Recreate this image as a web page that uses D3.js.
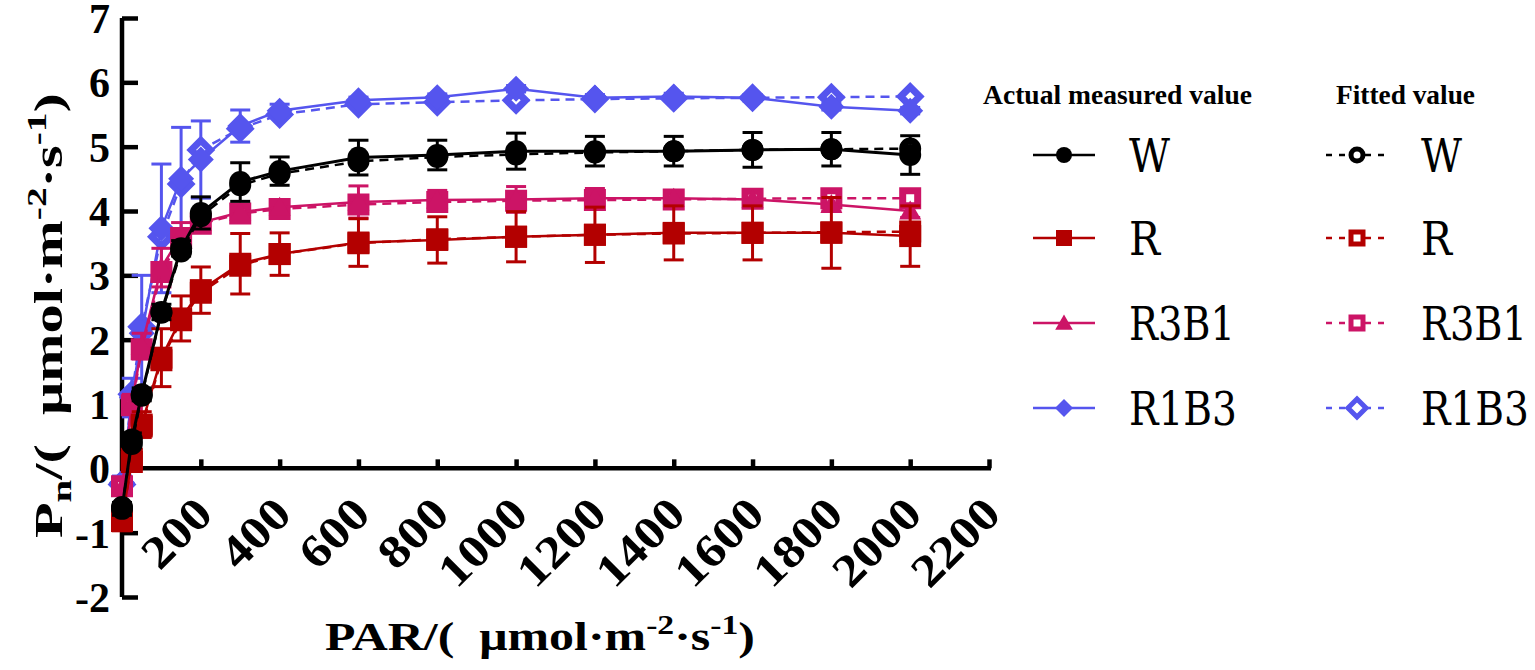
<!DOCTYPE html>
<html>
<head>
<meta charset="utf-8">
<script src="https://cdn.jsdelivr.net/npm/d3@7"></script>
<style>
  html, body { margin: 0; padding: 0; background: #fff; }
</style>
</head>
<body>
<div id="chart"></div>
<script>
// PAR levels (x) and net photosynthesis values (y)
var parLevels = [0, 25, 50, 100, 150, 200, 300, 400, 600, 800, 1000, 1200, 1400, 1600, 1800, 2000];

var wActual   = [-0.63, 0.45, 1.15, 2.43, 3.42, 3.97, 4.45, 4.62, 4.83, 4.87, 4.93, 4.93, 4.93, 4.95, 4.96, 4.87];
var wFitted   = [-0.60, 0.38, 1.13, 2.42, 3.37, 3.92, 4.40, 4.58, 4.77, 4.84, 4.88, 4.91, 4.93, 4.95, 4.96, 4.97];
var wErr      = [0.10, 0.10, 0.10, 0.12, 0.12, 0.25, 0.30, 0.22, 0.27, 0.23, 0.28, 0.23, 0.23, 0.27, 0.26, 0.30];

var rActual   = [-0.82, 0.15, 0.68, 1.72, 2.33, 2.77, 3.18, 3.33, 3.51, 3.55, 3.60, 3.63, 3.66, 3.66, 3.66, 3.61];
var rFitted   = [-0.80, 0.10, 0.65, 1.68, 2.30, 2.73, 3.15, 3.33, 3.50, 3.56, 3.60, 3.63, 3.65, 3.66, 3.67, 3.68];
var rErr      = [0.15, 0.15, 0.20, 0.45, 0.35, 0.36, 0.47, 0.33, 0.37, 0.36, 0.39, 0.43, 0.42, 0.42, 0.55, 0.47];

var r3b1Actual = [-0.30, 1.00, 1.90, 3.12, 3.62, 3.82, 3.98, 4.06, 4.14, 4.17, 4.18, 4.20, 4.20, 4.18, 4.10, 4.00];
var r3b1Fitted = [-0.28, 0.98, 1.85, 3.05, 3.58, 3.80, 3.96, 4.03, 4.10, 4.14, 4.16, 4.17, 4.18, 4.19, 4.20, 4.20];
var r3b1Err    = [0.10, 0.15, 0.20, 0.30, 0.20, 0.12, 0.10, 0.10, 0.25, 0.15, 0.20, 0.15, 0.10, 0.10, 0.10, 0.10];

var r1b3Actual = [-0.22, 1.10, 2.10, 3.73, 4.50, 4.80, 5.32, 5.56, 5.72, 5.77, 5.90, 5.76, 5.78, 5.76, 5.62, 5.56];
var r1b3Fitted = [-0.25, 1.15, 2.20, 3.60, 4.42, 4.95, 5.28, 5.50, 5.66, 5.69, 5.72, 5.74, 5.75, 5.76, 5.77, 5.78];
var r1b3Err    = [0.10, 0.30, 0.90, 1.00, 0.80, 0.60, 0.25, 0.10, 0.05, 0.05, 0.05, 0.05, 0.05, 0.05, 0.05, 0.05];

var seriesNames = ["W", "R", "R3B1", "R1B3"];
var seriesColors = ["#000000", "#b30000", "#cc1466", "#5555ee"];
var seriesShapes = ["circle", "square", "triangle", "diamond"];
var fittedShapes = ["circle", "square", "square", "diamond"];

var xTicks = [200, 400, 600, 800, 1000, 1200, 1400, 1600, 1800, 2000, 2200];
var yTicks = [-2, -1, 0, 1, 2, 3, 4, 5, 6, 7];

var series = [
  { name: "W", actual: wActual, fitted: wFitted, err: wErr },
  { name: "R", actual: rActual, fitted: rFitted, err: rErr },
  { name: "R3B1", actual: r3b1Actual, fitted: r3b1Fitted, err: r3b1Err },
  { name: "R1B3", actual: r1b3Actual, fitted: r1b3Fitted, err: r1b3Err }
];

var serif = "'Liberation Serif'";
// regular serif face for the legend names
var serifRegular = "'DejaVu Serif Condensed', 'DejaVu Serif', 'Liberation Serif'";
var nameWidths = [41, 31, 106, 108];
var width = 1535, height = 670;

var svg = d3.select("#chart")
  .append("svg")
  .attr("width", width)
  .attr("height", height)
  .style("display", "block");

var x = d3.scaleLinear().domain([0, 2200]).range([122, 989]);
var y = d3.scaleLinear().domain([-2, 7]).range([597, 18]);

// marker path for a shape with half size r
function shapePath(shape, r) {
  if (shape == "circle") {
    return "M" + (-r) + ",0A" + r + "," + r + " 0 1,0 " + r + ",0A" + r + "," + r + " 0 1,0 " + (-r) + ",0Z";
  }
  if (shape == "square") {
    return "M" + (-r) + "," + (-r) + "H" + r + "V" + r + "H" + (-r) + "Z";
  }
  if (shape == "triangle") {
    return "M0," + (-r * 1.05) + "L" + (r * 1.1) + "," + (r * 0.85) + "H" + (-r * 1.1) + "Z";
  }
  return "M0," + (-r) + "L" + r + ",0L0," + r + "L" + (-r) + ",0Z";
}

function toPoints(vals) {
  return vals.map(function (v, i) { return { par: parLevels[i], val: v }; });
}

var line = d3.line()
  .x(function (d) { return x(d.par); })
  .y(function (d) { return y(d.val); });

// axes
var yAxis = svg.append("g")
  .attr("transform", "translate(" + x(0) + ",0)")
  .call(d3.axisRight(y).tickValues(yTicks).tickSize(16).tickFormat(""));
yAxis.select(".domain").attr("stroke-width", 4.5).attr("d", "M0," + y(-2) + "V" + y(7));
yAxis.selectAll(".tick line").attr("stroke-width", 4.5);

var xAxis = svg.append("g")
  .attr("transform", "translate(0," + y(0) + ")")
  .call(d3.axisTop(x).tickValues(xTicks).tickSize(9).tickFormat(""));
xAxis.select(".domain").attr("stroke-width", 4.5).attr("d", "M" + x(0) + ",0H" + (x(2200) + 2));
xAxis.selectAll(".tick line").attr("stroke-width", 4.5);

// y tick labels
svg.append("g").selectAll("text")
  .data(yTicks)
  .join("text")
  .style("font-family", serif)
  .attr("x", 110)
  .attr("y", function (d) { return y(d); })
  .attr("dy", "0.36em")
  .attr("text-anchor", "end")
  .attr("font-size", 42)
  .attr("font-weight", "bold")
  .text(function (d) { return d; });

// x tick labels, rotated
svg.append("g").selectAll("text")
  .data(xTicks)
  .join("text")
  .style("font-family", serif)
  .attr("transform", function (d) { return "translate(" + (x(d) + 14) + "," + (y(0) + 48) + ") rotate(-45)"; })
  .attr("text-anchor", "end")
  .attr("font-size", 46)
  .attr("font-weight", "bold")
  .attr("textLength", function (d) { return String(d).length * 26; })
  .attr("lengthAdjust", "spacingAndGlyphs")
  .text(function (d) { return d; });

// axis titles
var xTitle = svg.append("text")
  .style("font-family", serif)
  .attr("x", 325)
  .attr("y", 650)
  .attr("font-size", 40)
  .attr("font-weight", "bold");
xTitle.append("tspan").text("PAR/(\u2002μmol·m");
xTitle.append("tspan").attr("dy", -16).attr("font-size", 27).text("-2");
xTitle.append("tspan").attr("dy", 16).text("·s");
xTitle.append("tspan").attr("dy", -16).attr("font-size", 27).text("-1");
xTitle.append("tspan").attr("dy", 16).text(")");

var yTitle = svg.append("text")
  .style("font-family", serif)
  .attr("font-size", 40)
  .attr("font-weight", "bold");
yTitle.append("tspan").text("P");
yTitle.append("tspan").attr("dy", 9).attr("font-size", 28).text("n");
yTitle.append("tspan").attr("dy", -9).text("/(\u2002μmol·m");
yTitle.append("tspan").attr("dy", -16).attr("font-size", 27).text("-2");
yTitle.append("tspan").attr("dy", 16).text("·s");
yTitle.append("tspan").attr("dy", -16).attr("font-size", 27).text("-1");
yTitle.append("tspan").attr("dy", 16).text(")");

// stretch titles to the measured widths
var xw = xTitle.node().getComputedTextLength();
xTitle.attr("transform", "translate(325,0) scale(" + (430 / xw) + ",1) translate(-325,0)");
var yw = yTitle.node().getComputedTextLength();
yTitle.attr("transform", "translate(62,538) rotate(-90) scale(" + (445 / yw) + ",1)");

// series, drawn back to front; fitted first, actual markers on top
var drawOrder = [3, 2, 1, 0];
drawOrder.forEach(function (si) {
  var s = series[si];
  var color = seriesColors[si];
  var g = svg.append("g");
  var actualPts = toPoints(s.actual);
  var fittedPts = toPoints(s.fitted);

  // error bars
  var eb = g.append("g").selectAll("g")
    .data(actualPts)
    .join("g")
    .attr("stroke", color)
    .attr("stroke-width", 3);
  eb.append("line")
    .attr("x1", function (d) { return x(d.par); })
    .attr("x2", function (d) { return x(d.par); })
    .attr("y1", function (d, i) { return y(d.val + s.err[i]); })
    .attr("y2", function (d, i) { return y(d.val - s.err[i]); });
  eb.append("line")
    .attr("x1", function (d) { return x(d.par) - 10; })
    .attr("x2", function (d) { return x(d.par) + 10; })
    .attr("y1", function (d, i) { return y(d.val + s.err[i]); })
    .attr("y2", function (d, i) { return y(d.val + s.err[i]); });
  eb.append("line")
    .attr("x1", function (d) { return x(d.par) - 10; })
    .attr("x2", function (d) { return x(d.par) + 10; })
    .attr("y1", function (d, i) { return y(d.val - s.err[i]); })
    .attr("y2", function (d, i) { return y(d.val - s.err[i]); });

  // fitted line + open markers
  g.append("path")
    .datum(fittedPts)
    .attr("fill", "none")
    .attr("stroke", color)
    .attr("stroke-width", 2.5)
    .attr("stroke-dasharray", "9,6")
    .attr("d", line);
  g.append("g").selectAll("path")
    .data(fittedPts)
    .join("path")
    .attr("transform", function (d) { return "translate(" + x(d.par) + "," + y(d.val) + ")"; })
    .attr("fill", "#fff")
    .attr("stroke", color)
    .attr("stroke-width", 7)
    .attr("d", shapePath(fittedShapes[si], fittedShapes[si] == "diamond" ? 9.5 : 7.5));

  // actual line + markers
  g.append("path")
    .datum(actualPts)
    .attr("fill", "none")
    .attr("stroke", color)
    .attr("stroke-width", si == 0 ? 3 : 2.5)
    .attr("d", line);
  g.append("g").selectAll("path")
    .data(actualPts)
    .join("path")
    .attr("transform", function (d) { return "translate(" + x(d.par) + "," + y(d.val) + ")"; })
    .attr("fill", color)
    .attr("d", shapePath(seriesShapes[si], seriesShapes[si] == "diamond" ? 13 : (seriesShapes[si] == "triangle" ? 10 : 11)));
});

// legend
var legend = svg.append("g");
legend.append("text").attr("x", 983).attr("y", 104)
  .style("font-family", serif)
  .attr("font-size", 27).attr("font-weight", "bold")
  .attr("textLength", 269).attr("lengthAdjust", "spacingAndGlyphs")
  .text("Actual measured value");
legend.append("text").attr("x", 1336).attr("y", 104)
  .style("font-family", serif)
  .attr("font-size", 27).attr("font-weight", "bold")
  .attr("textLength", 139).attr("lengthAdjust", "spacingAndGlyphs")
  .text("Fitted value");

var rowY = [155, 238, 323, 408];
seriesNames.forEach(function (name, i) {
  var color = seriesColors[i];
  var ry = rowY[i];
  legend.append("line").attr("x1", 1033).attr("x2", 1095).attr("y1", ry).attr("y2", ry)
    .attr("stroke", color).attr("stroke-width", 2.5);
  legend.append("path")
    .attr("transform", "translate(1064," + ry + ")")
    .attr("fill", color)
    .attr("d", shapePath(seriesShapes[i], seriesShapes[i] == "diamond" ? 9 : 8));
  legend.append("text").attr("x", 1129).attr("y", ry + 17)
    .style("font-family", serifRegular)
    .attr("font-size", 46)
    .attr("textLength", nameWidths[i]).attr("lengthAdjust", "spacingAndGlyphs")
    .text(name);

  legend.append("line").attr("x1", 1326).attr("x2", 1388).attr("y1", ry).attr("y2", ry)
    .attr("stroke", color).attr("stroke-width", 2.5).attr("stroke-dasharray", "6,7");
  legend.append("path")
    .attr("transform", "translate(1357," + ry + ")")
    .attr("fill", "#fff")
    .attr("stroke", color)
    .attr("stroke-width", 5)
    .attr("d", shapePath(fittedShapes[i], fittedShapes[i] == "diamond" ? 9 : 6));
  legend.append("text").attr("x", 1421).attr("y", ry + 17)
    .style("font-family", serifRegular)
    .attr("font-size", 46)
    .attr("textLength", nameWidths[i]).attr("lengthAdjust", "spacingAndGlyphs")
    .text(name);
});
</script>
</body>
</html>
